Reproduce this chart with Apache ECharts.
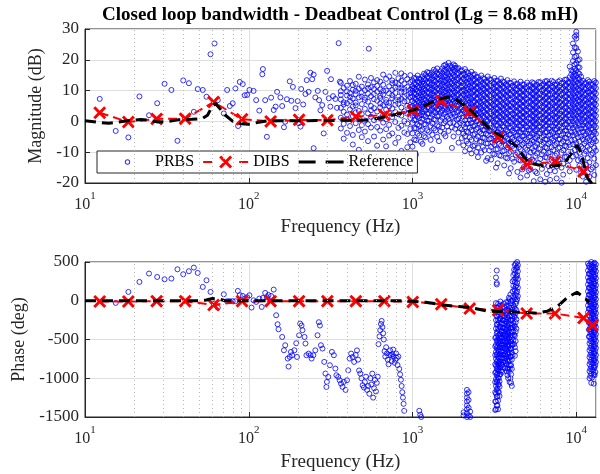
<!DOCTYPE html>
<html>
<head>
<meta charset="utf-8">
<script src="https://cdn.jsdelivr.net/npm/echarts@6/dist/echarts.min.js"></script>
<style>
  html, body { margin: 0; padding: 0; background: #fff; }
  #chart { width: 600px; height: 474px; }
</style>
</head>
<body>
<div id="chart"></div>
<script>
// ---------- data ----------
var fMin = 10, fMax = 13200;
var minorGrid = [20, 30, 40, 50, 60, 70, 80, 90, 200, 300, 400, 500, 600, 700, 800, 900,
                 2000, 3000, 4000, 5000, 6000, 7000, 8000, 9000];

// DIBS (red X markers)
var dibsMagFreq = [12.3, 18.4, 27.4, 40.9, 61, 91, 136, 203, 302, 451, 673, 1004, 1498, 2235, 3335, 4976, 7424, 11077];
var dibsMag = [2.8, -0.2, 0.8, 0.9, 6.3, 0.7, 0.0, 0.5, 0.4, 1.5, 2.1, 3.5, 6.6, 3.1, -5.2, -14.0, -13.1, -16.3];
var dibsPhaseFreq = [12.3, 18.4, 27.4, 40.9, 61, 91, 136, 203, 302, 451, 673, 1004, 1498, 2235, 3335, 4976, 7424, 11077, 12570];
var dibsPhase = [-10, -10, -5, -5, -55, -5, -5, -5, -5, -5, -5, -15, -45, -101, -123, -165, -165, -222, -316];

// Reference (black dashed)
var refMagFreq = [10, 12, 14, 16, 19, 22, 25, 28, 32, 37, 45, 52, 56, 60, 63, 67, 72, 80, 90, 100, 115, 130, 200, 300, 450, 550,
                  640, 750, 850, 1000, 1150, 1300, 1450, 1650, 1800, 2000, 2250, 2600, 3000, 3770, 4340, 4780, 5240, 6650,
                  8000, 8790, 10100, 10750, 11600, 12600];
var refMag = [0.2, -0.3, -0.6, -0.2, 0.3, 0.6, 0.3, -0.2, 0.0, 0.5, 0.7, 0.9, 2.0, 5.0, 5.8, 4.0, 2.0, 0.0, -0.8, -0.9, -0.3, 0.2,
              0.2, 0.3, 0.4, 0.5, 1.2, 2.0, 2.6, 3.6, 4.8, 6.2, 7.2, 7.9, 7.5, 5.8, 3.7, 0.5, -2.8, -5.8, -8.2, -11.5, -13.6,
              -14.7, -14.2, -12.5, -7.7, -10.4, -18.0, -20.5];
var refPhaseFreq = [10, 50, 55, 60, 65, 72, 900, 1000, 1200, 1480, 1800, 2250, 2850, 3500, 4150, 5000, 5770, 6640, 7500,
                    8000, 8800, 10100, 11400, 12000];
var refPhase = [0, 0, 10, 28, 25, 0, 0, -8, -20, -50, -70, -85, -133, -140, -146, -152, -160, -135, -90, -40, 40, 110, 25, -20];

// PRBS magnitude, single points [Hz, dB]
var prbsMagPts = [[12.3, 7.3], [15.4, -3.1], [18.4, -5.2], [21.5, 8.1], [24.6, 2.0], [27.6, 5.9], [30.6, 12.2], [33.7, 10.2],
  [36.7, -6.3], [39.8, 13.3], [43.1, 12.4], [46.2, 3.1], [48.8, 10.5], [52.4, 10.2], [55.2, 8.0], [58.4, 21.8], [61.8, 25.3],
  [64.7, 6.9], [70.4, 2.6], [73.8, 10.2], [76.6, 5.0], [79.8, 5.9], [82.9, 10.7], [86.1, -1.5], [88.1, 12.8], [91.9, 12.1],
  [94.5, 8.5], [97.7, 8.6], [101, 10.2], [107, 9.9], [111, 6.9], [116, 3.5], [121, 15.3], [122, 17.0], [126, 6.9], [129, -5.0],
  [137, 7.7], [142, 3.7], [146, 4.8], [149, 9.6], [156, 7.8], [160, 5.0], [164, -1.9], [167, -0.1], [171, 7.2], [178, 13.0],
  [182, 6.7], [186, 11.2], [193, 4.3], [199, 6.6], [202, -0.6], [207, -1.7], [209, 10.5], [215, 5.5], [222, 8.9], [226, 13.4],
  [232, 9.6], [238, 15.8], [244, 13.7], [249, -8.7], [249, 15.2], [255, 7.8], [264, 9.9], [269, 6.9], [274, 3.6], [281, 5.3],
  [287, -3.9], [294, 9.6], [301, 16.4], [308, 7.5], [315, 4.8], [318, 13.7], [327, 8.2], [338, 7.3], [346, 4.4], [354, 25.4],
  [360, 12.9], [541, 23.6]];

// PRBS magnitude, columns of points [Hz, [dB ...]]
var prbsMagCols = [
  [365, [12.5, 9.8, 7.1, 4.4, 1.2, -2.3, 8.6]],
  [380, [10.9, 6.2, 3.1, -0.8, 5.5, -5.6]],
  [398, [11.6, 8.4, 5.9, 2.2, -3.7, 9.7, 0.6]],
  [415, [13.1, 9.2, 6.6, 3.9, -1.5, 7.9]],
  [432, [10.3, 7.4, 4.8, 1.7, -4.4, 11.8, -7.5]],
  [450, [12.2, 8.8, 5.2, 2.9, -0.6, 9.9, 6.1]],
  [470, [14.5, 10.6, 7.8, 3.4, -2.8, 0.9, -9.2]],
  [490, [11.3, 8.1, 5.6, 2.4, -1.2, 9.4, -5.1]],
  [512, [13.6, 10.1, 6.9, 4.1, 0.3, -3.3, 7.7]],
  [535, [12.0, 9.0, 6.4, 2.6, -0.9, 10.8, -6.4]],
  [558, [14.1, 11.1, 8.2, 5.0, 1.5, -2.0, 3.6]],
  [582, [10.5, 7.2, 4.3, 0.4, -4.9, 12.7, 8.9]],
  [608, [13.4, 9.6, 6.7, 3.2, -1.8, 11.5, -7.9]],
  [635, [12.9, 10.4, 7.6, 4.6, 1.0, -3.0, 5.8, 8.3]],
  [662, [15.2, 11.9, 8.7, 5.3, 2.1, -0.4, -5.9, 9.9]],
  [690, [13.8, 10.0, 7.0, 3.8, 0.7, -2.5, 6.2, -8.1]],
  [720, [14.6, 11.4, 9.1, 6.0, 2.7, -1.1, 4.9, -4.6]],
  [752, [12.4, 10.2, 7.5, 4.2, 1.4, -3.9, 8.5, 13.3]],
  [785, [15.8, 12.6, 9.3, 6.8, 3.0, -0.2, 5.4, -7.0, 10.9]],
  [820, [14.0, 11.0, 8.0, 5.7, 2.3, -2.1, 6.9, -5.3, 12.1]],
  [855, [13.2, 10.7, 7.3, 4.5, 1.9, -1.4, 9.6, -9.6, 15.6]],
  [892, [14.8, 12.3, 9.5, 6.5, 3.3, 0.1, -3.6, 8.1, 10.6]],
  [930, [13.7, 11.2, 8.6, 5.1, 2.5, -0.7, 6.6, -4.1, -8.4]],
  [970, [15.0, 12.8, 10.3, 7.9, 4.7, 1.1, -2.4, 9.2, -6.8]],
  [1000, [13.2, 11.4, 9.9, 8.1, 6.6, 5.0, 3.2, 1.8, -0.5, -3.9, -8.2, 10.7]],
  [1025, [14.1, 12.3, 10.8, 9.0, 7.5, 5.9, 4.1, 2.6, 0.4, -2.2, -5.9]],
  [1050, [14.0, 12.1, 10.5, 8.9, 7.3, 5.7, 4.1, 2.4, 0.6, -2.2, -6.1, -10.8]],
  [1075, [14.9, 13.0, 11.4, 9.8, 8.2, 6.6, 5.0, 3.3, 1.5, -1.0, -4.0]],
  [1100, [12.7, 11.0, 9.4, 7.7, 6.1, 4.5, 2.9, 1.1, -1.4, -4.6, 13.9]],
  [1125, [13.6, 11.9, 10.3, 8.6, 7.0, 5.4, 3.8, 2.0, -0.3, -3.0, -6.6]],
  [1150, [14.6, 12.9, 11.3, 9.6, 8.0, 6.3, 4.7, 3.0, 0.9, -2.7, -7.3]],
  [1175, [15.5, 13.8, 12.2, 10.5, 8.9, 7.2, 5.6, 3.9, 1.9, -0.9, -4.8]],
  [1200, [15.1, 13.4, 11.7, 10.1, 8.4, 6.9, 5.2, 3.6, 1.5, -1.0, -5.2]],
  [1230, [16.0, 14.3, 12.6, 11.0, 9.3, 7.8, 6.1, 4.5, 2.5, 0.2, -2.9]],
  [1260, [14.2, 12.6, 10.9, 9.3, 7.6, 6.0, 4.4, 2.6, 0.2, -3.4, 15.8]],
  [1290, [15.1, 13.5, 11.8, 10.2, 8.5, 6.9, 5.3, 3.5, 1.3, -1.5, -6.0]],
  [1320, [15.9, 14.1, 12.4, 10.8, 9.1, 7.5, 5.8, 4.1, 2.2, -0.6, -4.3, -9.1]],
  [1350, [16.8, 15.0, 13.3, 11.7, 10.0, 8.4, 6.7, 5.0, 3.1, 0.7, -2.3]],
  [1380, [16.3, 14.6, 12.9, 11.2, 9.6, 7.9, 6.2, 4.6, 2.8, 0.5, -2.9]],
  [1415, [17.2, 15.5, 13.8, 12.1, 10.5, 8.8, 7.1, 5.5, 3.7, 1.6, -1.3, -5.0]],
  [1450, [15.4, 13.8, 12.2, 10.5, 8.8, 7.1, 5.5, 3.9, 1.9, -1.6, -6.4]],
  [1485, [16.3, 14.7, 13.1, 11.4, 9.7, 8.0, 6.4, 4.8, 2.9, 0.3, -3.2]],
  [1520, [17.2, 15.5, 13.7, 12.0, 10.3, 8.6, 6.9, 5.3, 3.5, 1.2, -2.0]],
  [1555, [18.1, 16.4, 14.6, 12.9, 11.2, 9.5, 7.8, 6.2, 4.4, 2.3, -0.6, -4.0]],
  [1590, [16.8, 15.0, 13.3, 11.6, 9.9, 8.2, 6.5, 4.8, 2.9, 0.1, -4.8, 18.4]],
  [1625, [17.7, 15.9, 14.2, 12.5, 10.8, 9.1, 7.4, 5.7, 3.9, 1.5, -1.6]],
  [1660, [19.0, 17.1, 15.3, 13.6, 11.9, 10.2, 8.5, 6.8, 5.1, 3.2, 0.8, -3.1]],
  [1700, [18.1, 16.2, 14.4, 12.7, 11.0, 9.3, 7.6, 5.9, 4.2, 2.1, -0.5]],
  [1740, [17.6, 15.8, 14.1, 12.4, 10.7, 9.0, 7.3, 5.6, 3.7, 1.4, -1.9, -8.6]],
  [1780, [18.5, 16.7, 15.0, 13.3, 11.6, 9.9, 8.2, 6.5, 4.6, 2.5, -0.4, -4.9]],
  [1820, [18.1, 16.3, 14.5, 12.8, 11.1, 9.4, 7.6, 5.9, 4.0, 1.6, -2.4, 17.4]],
  [1865, [17.2, 15.4, 13.6, 11.9, 10.2, 8.5, 6.7, 5.0, 3.0, 0.6, -1.2]],
  [1910, [17.3, 15.6, 13.9, 12.1, 10.4, 8.7, 7.0, 5.2, 3.3, 0.9, -3.6, -6.9]],
  [1955, [16.4, 14.7, 13.0, 11.2, 9.5, 7.8, 6.1, 4.3, 2.3, -0.5, -2.2]],
  [2000, [16.6, 14.8, 13.1, 11.4, 9.7, 8.0, 6.2, 4.5, 2.6, 0.3, -2.6, -5.4]],
  [2045, [15.7, 13.9, 12.2, 10.5, 8.8, 7.1, 5.3, 3.6, 1.6, -1.0, -3.9, -7.8]],
  [2090, [17.0, 15.2, 13.5, 11.7, 10.0, 8.3, 6.5, 4.7, 2.8, 0.4, -1.9, -4.8, -9.7]],
  [2140, [16.1, 14.3, 12.6, 10.8, 9.1, 7.4, 5.6, 3.8, 1.8, -0.8, -3.3, -6.4]],
  [2190, [15.7, 14.0, 12.2, 10.5, 8.7, 7.0, 5.3, 3.5, 1.6, -0.7, -3.5, -7.2]],
  [2240, [14.8, 13.1, 11.3, 9.6, 7.8, 6.1, 4.4, 2.6, 0.5, -2.0, -5.2, -9.1]],
  [2290, [16.1, 14.3, 12.5, 10.8, 9.0, 7.2, 5.4, 3.6, 1.7, -0.5, -2.8, -6.0, -10.4]],
  [2345, [15.2, 13.4, 11.6, 9.9, 8.1, 6.3, 4.5, 2.7, 0.7, -1.6, -4.3, -8.0]],
  [2400, [15.3, 13.6, 11.8, 10.1, 8.3, 6.5, 4.8, 3.0, 1.0, -1.3, -4.1, -7.8]],
  [2455, [14.4, 12.7, 10.9, 9.2, 7.4, 5.6, 3.9, 2.1, 0.0, -2.5, -5.8, -9.9]],
  [2510, [14.4, 12.7, 10.9, 9.2, 7.4, 5.6, 3.9, 2.1, 0.2, -2.1, -4.9, -8.5, -11.6]],
  [2570, [13.5, 11.8, 10.0, 8.3, 6.5, 4.7, 3.0, 1.2, -0.8, -3.4, -6.6]],
  [2630, [14.9, 13.1, 11.4, 9.6, 7.8, 6.0, 4.2, 2.4, 0.5, -1.7, -4.0, -6.6, -10.1]],
  [2690, [14.0, 12.2, 10.5, 8.7, 6.9, 5.1, 3.3, 1.5, -0.5, -2.8, -5.3, -8.3]],
  [2750, [13.8, 12.0, 10.3, 8.5, 6.7, 4.9, 3.1, 1.3, -0.6, -2.8, -5.4, -9.3]],
  [2815, [12.9, 11.1, 9.4, 7.6, 5.8, 4.0, 2.2, 0.4, -1.6, -4.0, -7.2, -12.8]],
  [2880, [14.6, 12.8, 11.0, 9.2, 7.4, 5.6, 3.8, 2.0, 0.1, -2.0, -4.4, -7.1, -11.9]],
  [2950, [13.7, 11.9, 10.1, 8.3, 6.5, 4.7, 2.9, 1.1, -0.9, -3.2, -5.8, -9.4]],
  [3020, [13.5, 11.8, 10.0, 8.2, 6.4, 4.6, 2.8, 1.0, -0.9, -3.0, -5.5, -8.3, -12.4]],
  [3090, [12.6, 10.9, 9.1, 7.3, 5.5, 3.7, 1.9, 0.1, -1.9, -4.2, -6.9, -10.5]],
  [3160, [14.1, 12.3, 10.5, 8.7, 6.9, 5.1, 3.3, 1.5, -0.4, -2.5, -4.8, -7.5, -10.7]],
  [3235, [13.2, 11.4, 9.6, 7.8, 6.0, 4.2, 2.4, 0.6, -1.4, -3.7, -6.2, -9.1, -15.0]],
  [3310, [13.2, 11.5, 9.7, 7.9, 6.1, 4.3, 2.5, 0.7, -1.2, -3.3, -5.8, -9.0, -13.6]],
  [3390, [12.3, 10.6, 8.8, 7.0, 5.2, 3.4, 1.6, -0.2, -2.2, -4.5, -7.3, -11.0]],
  [3470, [13.9, 12.1, 10.3, 8.5, 6.7, 4.9, 3.1, 1.3, -0.6, -2.7, -5.1, -7.9, -11.2]],
  [3550, [13.0, 11.2, 9.4, 7.6, 5.8, 4.0, 2.2, 0.4, -1.6, -3.9, -6.5, -9.7]],
  [3630, [12.8, 11.0, 9.2, 7.4, 5.6, 3.8, 2.0, 0.2, -1.7, -3.8, -6.2, -9.5, -14.3]],
  [3715, [11.9, 10.1, 8.3, 6.5, 4.7, 2.9, 1.1, -0.7, -2.7, -5.0, -7.8, -11.8]],
  [3800, [13.4, 11.6, 9.8, 8.0, 6.2, 4.4, 2.6, 0.8, -1.1, -3.2, -5.6, -8.4, -12.0]],
  [3890, [12.5, 10.7, 8.9, 7.1, 5.3, 3.5, 1.7, -0.1, -2.1, -4.4, -7.0, -10.3, -16.9]],
  [3980, [12.5, 10.7, 8.9, 7.1, 5.3, 3.5, 1.7, -0.1, -2.0, -4.1, -6.5, -9.9, -15.2]],
  [4075, [11.6, 9.8, 8.0, 6.2, 4.4, 2.6, 0.8, -1.0, -3.0, -5.3, -8.0, -12.1]],
  [4170, [13.0, 11.2, 9.4, 7.6, 5.8, 4.0, 2.2, 0.4, -1.5, -3.6, -6.0, -8.8, -13.1]],
  [4270, [12.1, 10.3, 8.5, 6.7, 4.9, 3.1, 1.3, -0.5, -2.5, -4.8, -7.4, -10.9]],
  [4370, [12.2, 10.4, 8.6, 6.8, 5.0, 3.2, 1.4, -0.4, -2.3, -4.4, -6.8, -10.3, -16.4]],
  [4470, [11.3, 9.5, 7.7, 5.9, 4.1, 2.3, 0.5, -1.3, -3.3, -5.6, -8.4, -12.5]],
  [4570, [12.9, 11.1, 9.3, 7.5, 5.7, 3.9, 2.1, 0.3, -1.6, -3.7, -6.1, -9.0, -12.7, -18.2]],
  [4680, [12.0, 10.2, 8.4, 6.6, 4.8, 3.0, 1.2, -0.6, -2.6, -4.9, -7.6, -11.0, -15.6]],
  [4790, [12.0, 10.2, 8.4, 6.6, 4.8, 3.0, 1.2, -0.6, -2.5, -4.6, -7.0, -10.6, -14.8]],
  [4900, [11.1, 9.3, 7.5, 5.7, 3.9, 2.1, 0.3, -1.5, -3.5, -5.8, -8.6, -12.3]],
  [5010, [12.6, 10.8, 9.0, 7.2, 5.4, 3.6, 1.8, 0.0, -1.9, -4.0, -6.4, -9.2, -13.4, -17.6]],
  [5130, [11.7, 9.9, 8.1, 6.3, 4.5, 2.7, 0.9, -0.9, -2.9, -5.2, -7.9, -11.3, -15.9]],
  [5250, [11.8, 10.0, 8.2, 6.4, 4.6, 2.8, 1.0, -0.8, -2.7, -4.8, -7.2, -10.1, -15.5]],
  [5375, [12.7, 10.9, 9.1, 7.3, 5.5, 3.7, 1.9, 0.1, -1.8, -3.8, -6.1, -8.7, -12.4]],
  [5500, [12.4, 10.6, 8.8, 7.0, 5.2, 3.4, 1.6, -0.2, -2.1, -4.2, -6.6, -9.6, -12.9, -19.4]],
  [5625, [11.5, 9.7, 7.9, 6.1, 4.3, 2.5, 0.7, -1.1, -3.1, -5.4, -8.1, -11.2, -16.3]],
  [5750, [11.9, 10.1, 8.3, 6.5, 4.7, 2.9, 1.1, -0.7, -2.6, -4.7, -7.1, -10.4, -16.8]],
  [5890, [12.8, 11.0, 9.2, 7.4, 5.6, 3.8, 2.0, 0.2, -1.7, -3.7, -6.0, -8.8, -13.5]],
  [6030, [12.7, 10.9, 9.1, 7.3, 5.5, 3.7, 1.9, 0.1, -1.8, -3.9, -6.3, -8.9, -12.2, -18.8]],
  [6170, [11.8, 10.0, 8.2, 6.4, 4.6, 2.8, 1.0, -0.8, -2.8, -5.1, -7.6, -10.7, -15.4]],
  [6310, [12.1, 10.3, 8.5, 6.7, 4.9, 3.1, 1.3, -0.5, -2.4, -4.5, -6.9, -9.8, -14.1]],
  [6460, [13.0, 11.2, 9.4, 7.6, 5.8, 4.0, 2.2, 0.4, -1.5, -3.5, -5.8, -8.4, -11.6, -19.6]],
  [6610, [13.1, 11.3, 9.5, 7.7, 5.9, 4.1, 2.3, 0.5, -1.4, -3.5, -5.9, -8.6, -11.8, -17.1]],
  [6765, [12.2, 10.4, 8.6, 6.8, 5.0, 3.2, 1.4, -0.4, -2.4, -4.7, -7.3, -10.2, -14.5]],
  [6920, [12.3, 10.5, 8.7, 6.9, 5.1, 3.3, 1.5, -0.3, -2.2, -4.3, -6.7, -10.0, -15.9, -19.0]],
  [7080, [13.2, 11.4, 9.6, 7.8, 6.0, 4.2, 2.4, 0.6, -1.3, -3.3, -5.6, -8.4, -12.6]],
  [7240, [12.8, 11.0, 9.2, 7.4, 5.6, 3.8, 2.0, 0.2, -1.7, -3.8, -6.2, -9.3, -13.0]],
  [7415, [11.9, 10.1, 8.3, 6.5, 4.7, 2.9, 1.1, -0.7, -2.7, -5.0, -7.7, -11.1, -16.2]],
  [7590, [12.0, 10.2, 8.4, 6.6, 4.8, 3.0, 1.2, -0.6, -2.5, -4.6, -7.0, -10.5, -14.6, -18.5]],
  [7765, [12.9, 11.1, 9.3, 7.5, 5.7, 3.9, 2.1, 0.3, -1.6, -3.6, -5.9, -8.7, -12.5]],
  [7940, [13.3, 11.5, 9.7, 7.9, 6.1, 4.3, 2.5, 0.7, -1.2, -3.3, -5.7, -8.5, -12.3]],
  [8130, [12.4, 10.6, 8.8, 7.0, 5.2, 3.4, 1.6, -0.2, -2.2, -4.5, -7.1, -10.2, -15.0, -19.9]],
  [8320, [12.6, 10.8, 9.0, 7.2, 5.4, 3.6, 1.8, 0.0, -1.9, -4.0, -6.4, -9.4, -13.7, -17.3]],
  [8515, [13.5, 11.7, 9.9, 8.1, 6.3, 4.5, 2.7, 0.9, -1.0, -3.0, -5.3, -7.9, -11.6]],
  [8710, [13.6, 11.8, 10.0, 8.2, 6.4, 4.6, 2.8, 1.0, -0.9, -3.0, -5.4, -8.1, -11.5]],
  [8915, [12.7, 10.9, 9.1, 7.3, 5.5, 3.7, 1.9, 0.1, -1.9, -4.2, -6.8, -9.9, -14.3]],
  [9120, [14.4, 12.6, 10.8, 9.0, 7.2, 5.4, 3.6, 1.8, -0.1, -2.2, -4.6, -7.6, -12.6, -16.2, 17.8]],
  [9335, [15.3, 13.5, 11.7, 9.9, 8.1, 6.3, 4.5, 2.7, 0.8, -1.2, -3.5, -6.2, -9.9, 16.6]],
  [9550, [16.2, 14.5, 12.7, 10.9, 9.1, 7.3, 5.5, 3.7, 1.9, 0.0, -2.1, -4.5, -7.4, -11.4, 19.6, 22.4, 25.3]],
  [9775, [17.1, 15.4, 13.6, 11.8, 10.0, 8.2, 6.4, 4.6, 2.8, 0.9, -1.1, -3.4, -6.0, -9.3, 18.5, 20.9, 24.1, 27.5]],
  [10000, [16.6, 14.9, 13.1, 11.3, 9.5, 7.7, 5.9, 4.1, 2.3, 0.4, -1.7, -4.1, -7.0, -10.9, -15.7, 18.9, 21.2, 23.8, 26.9, 29.1, 28.0]],
  [10235, [15.7, 14.0, 12.2, 10.4, 8.6, 6.8, 5.0, 3.2, 1.4, -0.6, -2.7, -5.2, -8.5, -12.6, 17.6, 19.8, 22.7]],
  [10470, [15.4, 13.6, 11.8, 10.0, 8.2, 6.4, 4.6, 2.8, 0.9, -1.2, -3.6, -6.5, -10.2, -14.4, 17.5, 20.1]],
  [10715, [14.5, 12.7, 10.9, 9.1, 7.3, 5.5, 3.7, 1.9, -0.1, -2.3, -4.9, -8.2, -12.2, -16.7]],
  [10960, [13.2, 11.4, 9.6, 7.8, 6.0, 4.2, 2.4, 0.6, -1.3, -3.4, -5.8, -8.7, -12.8, -17.9]],
  [11220, [12.3, 10.5, 8.7, 6.9, 5.1, 3.3, 1.5, -0.3, -2.3, -4.6, -7.2, -10.5, -15.2]],
  [11480, [12.5, 10.7, 8.9, 7.1, 5.3, 3.5, 1.7, -0.1, -2.0, -4.1, -6.5, -9.7, -14.0, -19.6]],
  [11750, [13.4, 11.6, 9.8, 8.0, 6.2, 4.4, 2.6, 0.8, -1.1, -3.1, -5.4, -8.2, -11.9, -16.6]],
  [12020, [12.9, 11.1, 9.3, 7.5, 5.7, 3.9, 2.1, 0.3, -1.6, -3.7, -6.1, -9.1, -13.3, -18.0]],
  [12300, [12.0, 10.2, 8.4, 6.6, 4.8, 3.0, 1.2, -0.6, -2.6, -4.9, -7.5, -10.8, -15.6]],
  [12590, [12.2, 10.4, 8.6, 6.8, 5.0, 3.2, 1.4, -0.4, -2.3, -4.4, -6.8, -10.3, -15.0]],
  [12880, [13.1, 11.3, 9.5, 7.7, 5.9, 4.1, 2.3, 0.5, -1.4, -3.4, -5.7, -8.6, -12.1, -17.4]],
  [13180, [12.6, 10.8, 9.0, 7.2, 5.4, 3.6, 1.8, 0.0, -1.9, -4.0, -6.4, -9.5, -14.2]]
];

// PRBS phase, single points [Hz, deg]
var prbsPhasePts = [[15.4, -28], [18.4, 114], [21.5, 243], [24.6, 351], [27.6, 307], [30.6, 277], [33.7, 286], [36.7, 406],
  [39.8, 342], [43.1, 381], [46.2, 428], [48.8, 359], [52.4, 178], [55.2, 264], [58.4, 114], [61.8, -36], [64.7, -88],
  [70.4, 84], [73.8, -6], [76.6, -6], [79.8, -6], [82.9, -6], [85.8, 127], [88.1, 71], [91.9, 62], [94.5, 28], [97.7, 45],
  [101, 71], [104, -88], [107, 6], [111, -15], [116, 28], [120, -80], [122, 36], [126, 101], [129, 45], [132, 75], [137, 62],
  [142, 144], [147, -187], [150, -303], [152, -368], [160, -467], [164, -639], [167, -574], [173, -746], [175, -849],
  [178, -725], [181, -660], [184, -703], [190, -639], [195, -548], [197, -725], [203, -445], [206, -294], [210, -320],
  [213, -380], [219, -467], [222, -552], [225, -703], [232, -682], [238, -703], [242, -746], [248, -703], [255, -639],
  [263, -445], [268, -277], [272, -320], [276, -574], [282, -617], [289, -789], [294, -939], [298, -1112], [300, -1047],
  [306, -983], [313, -832], [322, -660], [331, -703], [338, -875], [343, -961], [352, -983], [359, -1026], [366, -1069],
  [374, -1112], [381, -1047], [390, -1150], [398, -1026], [405, -897], [413, -746], [422, -682], [431, -725], [440, -789],
  [450, -700], [458, -640], [465, -760], [472, -900], [480, -940], [488, -1000], [496, -1090], [505, -1120], [512, -1050],
  [520, -980], [528, -1150], [536, -1100], [545, -1200], [553, -1000], [560, -1080], [568, -940], [575, -1250], [583, -1130],
  [590, -1020], [598, -1170], [605, -1060], [613, -980], [620, -560], [628, -460], [635, -380], [642, -300], [648, -260],
  [655, -340], [662, -420], [668, -500], [675, -650], [682, -720], [690, -600], [698, -680], [706, -760], [714, -820],
  [722, -700], [730, -640], [738, -700], [746, -780], [754, -690], [762, -630], [770, -720], [778, -800], [786, -760],
  [794, -680], [802, -740], [810, -830], [820, -720], [830, -880], [840, -950], [850, -1020], [858, -1100], [866, -1180],
  [874, -1250], [882, -1330], [890, -1420], [1100, -1420], [1115, -1470], [1130, -1500]];

// PRBS phase, columns of points [Hz, [deg ...]]
var prbsPhaseCols = [
  [2050, [-1480, -1440]],
  [2150, [-1150, -1200, -1250, -1300, -1350, -1400, -1450, -1500]],
  [2200, [-1180, -1280, -1380, -1480]],
  [2250, [-1430, -1500]],
  [3200, [-1410, -1300, -1180, -1050, -930, -820, -700, -590, -480]],
  [3235, [300, -30, -140, -250, -360, -470, -570, -660, -750, -840, -920, -1010, -1100, -1200, -1300, -1400]],
  [3270, [390, 230, 210, -90, -200, -310, -420, -520, -610, -700, -790, -880, -960, -1050, -1150, -1240, -1350]],
  [3300, [-90, -200, -300, -400, -500, -590, -680, -770, -850, -940, -1030, -1130, -1230, -1350]],
  [3330, [-40, -150, -250, -360, -450, -540, -630, -720, -810, -890, -990, -1080, -1170, -1290, -1400]],
  [3365, [-70, -180, -280, -380, -480, -560, -650, -740, -820, -910, -1000, -1080, -1180]],
  [3400, [-120, -230, -330, -430, -520, -600, -690, -780, -860, -950, -1040, -1110, -1230]],
  [3440, [-10, -120, -230, -340, -430, -520, -600, -690, -780, -860, -950]],
  [3480, [-60, -180, -290, -390, -470, -560, -650, -730, -820, -900]],
  [3520, [-90, -200, -300, -400, -480, -570, -660, -750, -830, -920]],
  [3560, [-140, -250, -350, -440, -520, -610, -700, -790, -860]],
  [3600, [-40, -150, -250, -350, -440, -530, -610, -700, -790]],
  [3640, [-90, -200, -300, -400, -480, -570, -650, -740]],
  [3680, [-130, -240, -350, -440, -520, -610, -690, -780, -870]],
  [3720, [-20, -160, -270, -370, -450, -540, -620, -710, -800]],
  [3760, [-60, -170, -270, -370, -460, -540, -630, -720, -820, -910]],
  [3800, [-110, -220, -320, -410, -500, -580, -670, -760, -870, -960]],
  [3840, [-10, -130, -240, -340, -430, -520, -600, -690, -780, -880, -1000]],
  [3880, [40, -70, -190, -290, -380, -470, -560, -640, -730, -830, -920]],
  [3920, [20, -90, -200, -300, -400, -480, -570, -670, -770, -880, -1050]],
  [3960, [80, -30, -140, -250, -350, -440, -530, -620, -720, -840, -1000]],
  [4000, [0, -140, -250, -350, -440, -530, -620, -720, -830, -950, -1060]],
  [4040, [-90, -200, -310, -400, -490, -580, -670, -760, -880, -1100]],
  [4085, [250, 120, 0, -120, -230, -340, -450, -560, -700]],
  [4130, [330, 190, 60, -60, -170, -290, -400, -510]],
  [4175, [400, 270, 150, 40, -80, -200, -320, -440, -560]],
  [4220, [460, 350, 240, 130, 20, -100, -210, -330, -450, -600, -710]],
  [4265, [480, 390, 290, 180, 70, -40, -160, -280, -400, -520, -650]],
  [4310, [510, 420, 310, 200, 100, -10, -120, -240, -360]],
  [4355, [500, 430, 330, 230, 120, 20]],
  [4400, [520, 460, 380, 280, 170, 60]],
  [11800, [480, 390, 300, 210, 120, 30, -60, -150]],
  [11950, [455, 345, 255, 165, 75, -15, -105, -195, -285, -375, -465]],
  [12050, [510, 430, 350, 260, 170, 80, -10, -100, -190, -280, -370, -460, -550, -640, -730, -820, -910, -1000]],
  [12200, [470, 380, 290, 200, 110, 20, -70, -160, -250, -340, -430, -520, -610, -700, -790, -880, -970]],
  [12350, [500, 410, 320, 230, 140, 50, -40, -130, -220, -310, -400, -490, -580, -670, -760, -850, -940, -1060]],
  [12500, [460, 370, 280, 190, 100, 10, -80, -170, -260, -350, -440, -530, -620, -710, -800, -890, -990]],
  [12650, [520, 440, 360, 270, 180, 90, 0, -90, -180, -270, -360, -450, -540, -630, -720, -810, -900]],
  [12800, [480, 400, 310, 220, 130, 40, -50, -140, -230, -320, -410, -500, -590, -680, -770, -860, -950, -1070]],
  [12950, [490, 400, 310, 220, 130, 40, -50, -140, -230, -320, -410, -500, -590, -680, -770, -860, -960]],
  [13080, [430, 340, 250, 160, 70, -20, -110, -200, -290, -380, -470, -560, -650, -740, -830, -920]],
  [13180, [470, 380, 290, 200, 110, 20, -70, -160, -250, -340, -430, -520, -610, -700, -790]]
];

// ---------- build series data ----------
function zip(xs, ys) {
  var out = [];
  for (var i = 0; i < xs.length; i++) out.push([xs[i], ys[i]]);
  return out;
}
function flatten(pts, cols) {
  var out = pts.slice();
  cols.forEach(function (c) {
    c[1].forEach(function (v) { out.push([c[0], v]); });
  });
  return out;
}

var FONT = 'Liberation Serif';
var INK = '#262626';
// filled X shape used for the DIBS markers
var crossPath = 'path://M0,1.6L1.6,0L5,3.4L8.4,0L10,1.6L6.6,5L10,8.4L8.4,10L5,6.6L1.6,10L0,8.4L3.4,5Z';
// legend icons, all drawn in a 45x14 box
var prbsIcon = 'path://M0,0M45,14M19.8,7A2.7,2.7 0 1,0 25.2,7A2.7,2.7 0 1,0 19.8,7ZM20.8,7A1.7,1.7 0 1,1 24.2,7A1.7,1.7 0 1,1 20.8,7Z';
var dibsIcon = 'path://M0,0M45,14M0,6L9,6L9,8L0,8ZM36,6L45,6L45,8L36,8Z' +
  'M16,2.58L18.08,0.5L22.5,4.92L26.92,0.5L29,2.58L24.58,7L29,11.42L26.92,13.5L22.5,9.08L18.08,13.5L16,11.42L20.42,7Z';
var refIcon = 'path://M0,0M45,14M0,5.5L17,5.5L17,8.5L0,8.5ZM27,5.5L45,5.5L45,8.5L27,8.5Z';

function xAxisOf(gridIndex, gap) {
  return {
    type: 'log', logBase: 10, gridIndex: gridIndex, min: fMin, max: fMax, interval: 1,
    name: 'Frequency (Hz)', nameLocation: 'middle', nameGap: gap,
    nameTextStyle: { fontFamily: FONT, fontSize: 19, color: INK },
    axisLine: { onZero: false, lineStyle: { color: INK, width: 1 } },
    axisTick: { inside: true, length: 5, lineStyle: { color: INK } },
    axisLabel: {
      margin: 8, showMaxLabel: false, color: INK,
      formatter: function (v) { return '{b|10}{s|' + Math.round(Math.log10(v)) + '}'; },
      rich: {
        b: { fontFamily: FONT, fontSize: 16, color: INK, lineHeight: 22, verticalAlign: 'bottom' },
        s: { fontFamily: FONT, fontSize: 11, color: INK, lineHeight: 12, verticalAlign: 'top' }
      }
    },
    splitLine: { show: true, lineStyle: { color: '#dedede', width: 1 } }
  };
}
function yAxisOf(gridIndex, name, gap, min, max, interval) {
  return {
    type: 'value', gridIndex: gridIndex, min: min, max: max, interval: interval,
    name: name, nameLocation: 'middle', nameGap: gap,
    nameTextStyle: { fontFamily: FONT, fontSize: 18, color: INK },
    axisLine: { show: true, onZero: false, lineStyle: { color: INK, width: 1 } },
    axisTick: { show: true, inside: true, length: 5, lineStyle: { color: INK } },
    axisLabel: { fontFamily: FONT, fontSize: 17, color: INK, margin: 6,
                 formatter: function (v) { return String(v); } },
    splitLine: { show: true, lineStyle: { color: '#dedede', width: 1 } }
  };
}
function minorGridSeries(idx) {
  return {
    type: 'line', xAxisIndex: idx, yAxisIndex: idx, data: [], silent: true, z: 1,
    markLine: {
      silent: true, symbol: 'none', label: { show: false }, animation: false,
      lineStyle: { type: [1, 3], color: '#b8b8b8', width: 1 },
      data: minorGrid.map(function (f) { return { xAxis: f }; })
    }
  };
}
function prbsSeries(idx, data) {
  return {
    name: 'PRBS', type: 'scatter', xAxisIndex: idx, yAxisIndex: idx, data: data,
    symbol: 'circle', symbolSize: 5, large: false, clip: true, z: 2,
    itemStyle: { color: 'rgba(0,0,0,0)', borderColor: '#0000ff', borderWidth: 1 }
  };
}
function dibsSeries(idx, data) {
  return {
    name: 'DIBS', type: 'line', xAxisIndex: idx, yAxisIndex: idx, data: data, z: 3,
    symbol: crossPath, symbolSize: 13, showSymbol: true,
    lineStyle: { color: '#ff0000', width: 2, type: [9, 5] },
    itemStyle: { color: '#ff0000' }
  };
}
function refSeries(idx, data) {
  return {
    name: 'Reference', type: 'line', xAxisIndex: idx, yAxisIndex: idx, data: data, z: 4,
    symbol: 'none', showSymbol: false,
    lineStyle: { color: '#000000', width: 3, type: [11, 6] },
    itemStyle: { color: '#000000' }
  };
}

var chart = echarts.init(document.getElementById('chart'), null, { renderer: 'canvas' });
chart.setOption({
  animation: false,
  backgroundColor: '#ffffff',
  title: {
    text: 'Closed loop bandwidth - Deadbeat Control (Lg = 8.68 mH)',
    left: 335, top: 1, textAlign: 'center',
    textStyle: { fontFamily: FONT, fontSize: 19, fontWeight: 'bold', color: '#000' }
  },
  legend: {
    left: 97, top: 151, orient: 'horizontal',
    padding: [3, 4, 3, 8], itemGap: 9, itemWidth: 45, itemHeight: 14,
    backgroundColor: '#ffffff', borderColor: INK, borderWidth: 1, borderRadius: 0,
    textStyle: { fontFamily: FONT, fontSize: 16, color: '#000' },
    data: [
      { name: 'PRBS', icon: prbsIcon, itemStyle: { color: '#0000ff', borderWidth: 0 } },
      { name: 'DIBS', icon: dibsIcon, itemStyle: { color: '#ff0000', borderWidth: 0 } },
      { name: 'Reference', icon: refIcon, itemStyle: { color: '#000000', borderWidth: 0 } }
    ]
  },
  grid: [
    { left: 85, top: 29, width: 511, height: 154, show: true, borderColor: INK, borderWidth: 1,
      backgroundColor: 'transparent', outerBoundsMode: 'none', containLabel: false },
    { left: 85, top: 262, width: 511, height: 155, show: true, borderColor: INK, borderWidth: 1,
      backgroundColor: 'transparent', outerBoundsMode: 'none', containLabel: false }
  ],
  xAxis: [xAxisOf(0, 35), xAxisOf(1, 36)],
  yAxis: [yAxisOf(0, 'Magnitude (dB)', 35, -20, 30, 10), yAxisOf(1, 'Phase (deg)', 52, -1500, 500, 500)],
  series: [
    minorGridSeries(0),
    minorGridSeries(1),
    prbsSeries(0, flatten(prbsMagPts, prbsMagCols)),
    dibsSeries(0, zip(dibsMagFreq, dibsMag)),
    refSeries(0, zip(refMagFreq, refMag)),
    prbsSeries(1, flatten(prbsPhasePts, prbsPhaseCols)),
    dibsSeries(1, zip(dibsPhaseFreq, dibsPhase)),
    refSeries(1, zip(refPhaseFreq, refPhase))
  ]
});
</script>
</body>
</html>
